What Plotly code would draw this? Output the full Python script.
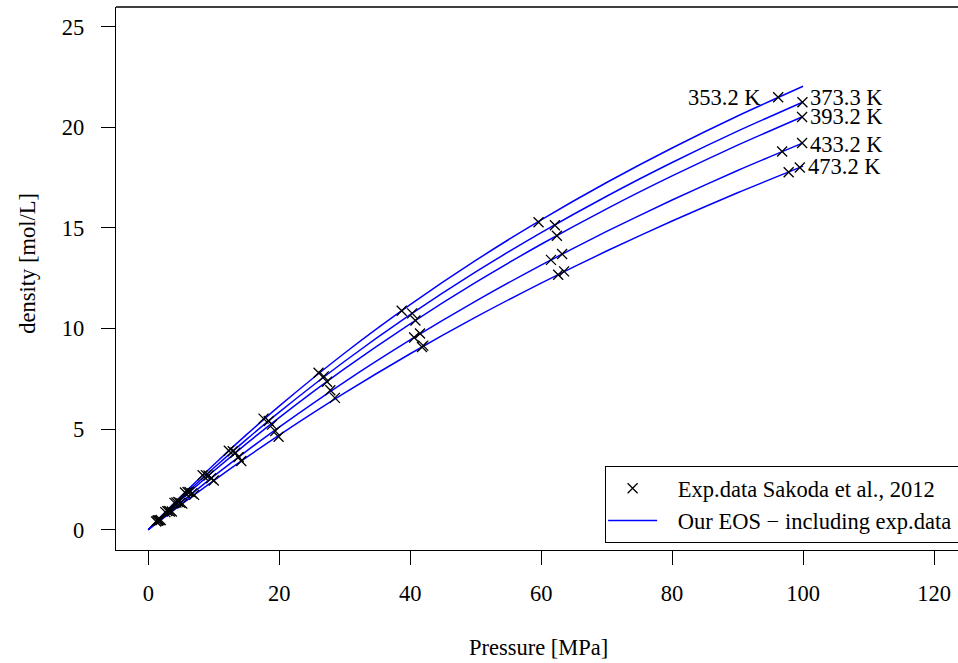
import plotly.graph_objects as go

# ---- data ----
temps = ["353.2 K", "373.3 K", "393.2 K", "433.2 K", "473.2 K"]

# EOS curves (pressure in MPa, density in mol/L)
curve_p = [0, 2, 5, 10, 15, 20, 30, 40, 50, 60, 70, 80, 90, 100]
curve_rho = {
    "353.2 K": [0, 0.674, 1.658, 3.229, 4.722, 6.142, 8.781, 11.184, 13.382, 15.399, 17.256, 18.973, 20.564, 22.041],
    "373.3 K": [0, 0.638, 1.571, 3.064, 4.486, 5.842, 8.371, 10.685, 12.809, 14.765, 16.574, 18.250, 19.808, 21.260],
    "393.2 K": [0, 0.606, 1.493, 2.916, 4.275, 5.572, 8.002, 10.233, 12.288, 14.187, 15.949, 17.586, 19.112, 20.538],
    "433.2 K": [0, 0.550, 1.358, 2.658, 3.905, 5.100, 7.350, 9.430, 11.360, 13.153, 14.826, 16.388, 17.851, 19.225],
    "473.2 K": [0, 0.504, 1.246, 2.442, 3.594, 4.701, 6.796, 8.745, 10.562, 12.259, 13.850, 15.343, 16.747, 18.070],
}

# Experimental data (Sakoda et al., 2012)
exp_p = {
    "353.2 K": [1.2, 2.6, 4.0, 5.6, 8.3, 12.3, 17.6, 26.0, 38.7, 59.6, 96.2],
    "373.3 K": [1.4, 2.9, 4.3, 6.0, 8.8, 12.9, 18.4, 26.8, 40.3, 62.1, 99.9],
    "393.2 K": [1.5, 3.1, 4.6, 6.3, 9.2, 13.3, 18.9, 27.3, 40.8, 62.4, 99.85],
    "433.2 K": [1.7, 3.3, 4.9, 6.7, 9.6, 13.8, 19.4, 27.8, 40.6, 41.5, 61.5, 63.2, 96.8, 99.85],
    "473.2 K": [1.9, 3.6, 5.2, 7.0, 10.0, 14.2, 19.9, 28.5, 41.8, 42.0, 62.6, 63.5, 97.8, 99.5],
}
exp_rho = {
    "353.2 K": [0.406, 0.873, 1.333, 1.851, 2.704, 3.926, 5.52, 7.80, 10.884, 15.28, 21.494],
    "373.3 K": [0.448, 0.921, 1.355, 1.875, 2.712, 3.897, 5.40, 7.62, 10.751, 15.13, 21.246],
    "393.2 K": [0.456, 0.934, 1.376, 1.870, 2.693, 3.820, 5.22, 7.35, 10.40, 14.61, 20.51],
    "433.2 K": [0.468, 0.903, 1.332, 1.806, 2.556, 3.610, 4.90, 6.93, 9.55, 9.75, 13.41, 13.70, 18.80, 19.22],
    "473.2 K": [0.479, 0.902, 1.294, 1.730, 2.442, 3.412, 4.62, 6.55, 9.08, 9.15, 12.67, 12.84, 17.77, 18.00],
}

# temperature labels
label_p = [96.2, 99.9, 99.85, 99.85, 99.5]
label_rho = [21.5, 21.5, 20.52, 19.15, 18.05]
label_side = ["left", "right", "right", "right", "right"]

x_ticks = [0, 20, 40, 60, 80, 100, 120]
y_ticks = [0, 5, 10, 15, 20, 25]

legend_exp = "Exp.data Sakoda et al., 2012"
legend_eos = "Our EOS \u2212 including exp.data"

FONT = "Liberation Serif"
FS = 22.5
PAD = "\u2002\u2009"  # small lead-in gap between legend key and text

fig = go.Figure()

for i, t in enumerate(temps):
    fig.add_trace(go.Scatter(
        x=curve_p, y=curve_rho[t], mode="lines",
        line=dict(color="#0000FF", width=1.5, shape="spline", smoothing=0.6),
        name=PAD + legend_eos + "\u00a0" * 4,
        showlegend=(i == 0), legendrank=2,
    ))

for i, t in enumerate(temps):
    fig.add_trace(go.Scatter(
        x=exp_p[t], y=exp_rho[t], mode="markers",
        marker=dict(symbol="x-thin-open", size=10, color="black",
                    line=dict(color="black", width=1.3)),
        name=PAD + legend_exp,
        showlegend=(i == 0), legendrank=1,
    ))

for t, p, r, side in zip(temps, label_p, label_rho, label_side):
    fig.add_annotation(
        x=p, y=r, xref="x", yref="y", text=t, showarrow=False,
        xanchor="right" if side == "left" else "left",
        xshift=-15 if side == "left" else 6, yanchor="middle",
        font=dict(family=FONT, size=FS, color="black"),
    )

axis_common = dict(
    showgrid=False, zeroline=False, showline=True, linecolor="black", linewidth=1.3,
    ticks="outside", ticklen=14, tickwidth=1.3, tickcolor="black",
    tickfont=dict(family=FONT, size=FS, color="black"),
)

fig.update_layout(
    width=958, height=663,
    margin=dict(l=116, r=0, t=7, b=113, pad=0, autoexpand=False),
    paper_bgcolor="white", plot_bgcolor="white",
    xaxis=dict(range=[-4.93, 123.66], tickvals=x_ticks, ticklabelstandoff=9, **axis_common),
    yaxis=dict(range=[-1.01, 25.98], tickvals=y_ticks, ticklabelstandoff=12, **axis_common),
    showlegend=True,
    legend=dict(
        x=0.5809, y=0.1546, xanchor="left", yanchor="top",
        bgcolor="white", bordercolor="black", borderwidth=1,
        font=dict(family=FONT, size=FS, color="black"),
        indentation=-3, itemwidth=49,
        tracegroupgap=0,
    ),
    shapes=[dict(type="line", xref="paper", yref="paper", x0=0, x1=1, y0=1, y1=1,
                 line=dict(color="black", width=1.3))],
)

fig.add_annotation(x=0.5014, y=-0.1804, xref="paper", yref="paper", text="Pressure [MPa]",
                   showarrow=False, xanchor="center", yanchor="middle",
                   font=dict(family=FONT, size=FS, color="black"))
fig.add_annotation(x=-0.1053, y=0.528, xref="paper", yref="paper", text="density [mol/L]",
                   showarrow=False, textangle=-90, xanchor="center", yanchor="middle",
                   font=dict(family=FONT, size=FS, color="black"))

fig.write_html("out.html", config={"displayModeBar": False},
               post_script="document.body.style.margin='0';")
